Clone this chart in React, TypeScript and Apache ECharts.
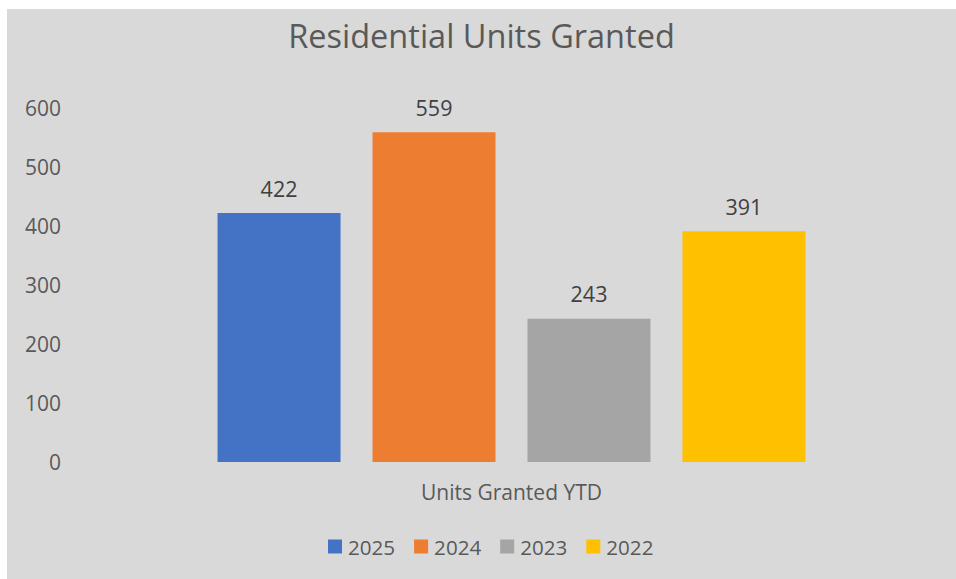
import React, { useEffect, useRef } from "react";
import * as echarts from "echarts";

const categories = ["Units Granted YTD"];
const seriesNames = ["2025", "2024", "2023", "2022"];
const seriesValues = [[422], [559], [243], [391]];
const seriesColors = ["#4472C4", "#ED7D31", "#A5A5A5", "#FFC000"];
const titleText = "Residential Units Granted";

export default function App() {
  const ref = useRef<HTMLDivElement>(null);
  useEffect(() => {
    if (!ref.current) return;
    const chart = echarts.init(ref.current, undefined, { renderer: "svg" });
    const font = "'Open Sans', 'Noto Sans', sans-serif";
    chart.setOption({
      animation: false,
      backgroundColor: "#D9D9D9",
      textStyle: { fontFamily: font },
      title: {
        text: titleText,
        left: "center",
        top: 5,
        textStyle: { fontFamily: font, fontSize: 32.5, fontWeight: "normal", color: "#595959" },
      },
      legend: {
        data: seriesNames,
        left: 316,
        top: 522,
        icon: "rect",
        itemWidth: 14,
        itemHeight: 14,
        itemGap: 19,
        textStyle: { fontFamily: font, fontSize: 20.6, color: "#595959", padding: [0, 0, 0, 1] },
      },
      grid: { left: 73, right: 13, top: 99, bottom: 117, containLabel: false },
      xAxis: {
        type: "category",
        data: categories,
        axisLine: { show: false },
        axisTick: { show: false },
        axisLabel: { fontFamily: font, fontSize: 21, color: "#595959", margin: 19 },
      },
      yAxis: {
        type: "value",
        min: 0,
        max: 600,
        interval: 100,
        splitLine: { show: false },
        axisLine: { show: false },
        axisTick: { show: false },
        axisLabel: { fontFamily: font, fontSize: 21, color: "#595959", margin: 19 },
      },
      series: seriesNames.map((name, i) => ({
        name,
        type: "bar",
        data: seriesValues[i],
        barWidth: 123,
        barGap: "26%",
        itemStyle: { color: seriesColors[i] },
        label: {
          show: true,
          position: "top",
          distance: 14,
          fontFamily: font,
          fontSize: 21.5,
          color: "#404040",
        },
      })),
    });
    return () => chart.dispose();
  }, []);
  return (
    <div
      ref={ref}
      style={{ position: "fixed", left: 7, top: 9, width: 949, height: 570 }}
    />
  );
}
